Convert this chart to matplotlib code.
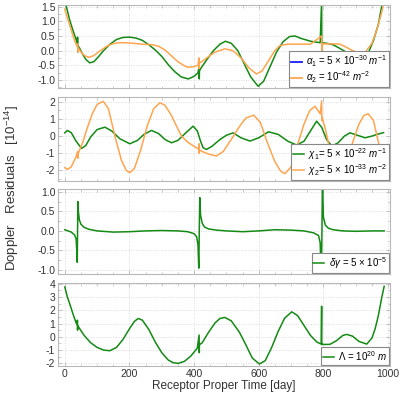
import matplotlib
matplotlib.use("Agg")
import matplotlib.pyplot as plt
from matplotlib.lines import Line2D
from matplotlib.ticker import MultipleLocator

plt.rcParams['font.family'] = ['Liberation Sans', 'DejaVu Sans']
plt.rcParams['mathtext.fontset'] = 'custom'
plt.rcParams['mathtext.rm'] = 'Liberation Sans'
plt.rcParams['mathtext.it'] = 'Liberation Sans:italic'

# ---------------- data ----------------
# Panel 1: alpha1 (green), alpha2 (orange)
a1_t = [0, 5, 15, 25, 35, 39, 39.5, 40.5, 41, 45, 55, 65, 77, 90, 105, 120, 140, 160, 180, 200,
        220, 240, 260, 280, 300, 320, 340, 360, 382, 400, 412, 415.5, 416, 416.5, 420, 440, 460,
        480, 497, 515, 535, 555, 575, 598, 615, 635, 655, 675, 695, 712, 730, 760, 790, 794.5,
        795, 795.5, 810, 830, 850, 870, 890, 910, 925, 940, 955, 970, 980, 990]
a1_v = [1.9, 1.5, 1.05, 0.7, 0.38, 0.25, 0.46, -0.05, 0.15, 0.1, -0.12, -0.3, -0.42, -0.38, -0.2,
        0.0, 0.22, 0.38, 0.45, 0.46, 0.43, 0.35, 0.2, 0.02, -0.2, -0.48, -0.72, -0.9, -0.97,
        -0.88, -0.76, -0.56, -0.97, -0.7, -0.62, -0.3, 0.0, 0.22, 0.32, 0.25, 0.0, -0.45, -0.9,
        -1.22, -1.05, -0.55, -0.05, 0.3, 0.48, 0.5, 0.42, 0.32, 0.27, 1.7, 0.0, 0.27, 0.25, 0.2,
        0.08, -0.05, -0.2, -0.28, -0.27, -0.05, 0.35, 0.9, 1.5, 2.0]
a2_t = [0, 10, 20, 30, 38, 39.5, 40.5, 41, 50, 62, 75, 90, 110, 130, 150, 170, 190, 210, 240,
        270, 290, 310, 330, 350, 370, 381, 400, 412, 415.5, 416, 416.5, 425, 445, 465, 495, 520,
        545, 570, 593, 610, 630, 650, 665, 690, 720, 760, 794.5, 795, 795.5, 830, 851, 870,
        890, 913, 930, 950, 965, 980, 990]
a2_v = [1.42, 1.05, 0.7, 0.35, 0.15, 0.22, -0.05, 0.1, -0.05, -0.18, -0.23, -0.17, 0.0, 0.15,
        0.24, 0.27, 0.27, 0.25, 0.22, 0.2, 0.15, 0.02, -0.18, -0.38, -0.52, -0.57, -0.55, -0.5,
        -0.25, -0.62, -0.42, -0.37, -0.2, -0.05, 0.06, 0.0, -0.25, -0.6, -0.8, -0.7, -0.35, 0.0,
        0.17, 0.22, 0.22, 0.22, 0.5, 0.0, 0.23, 0.23, 0.22, 0.12, 0.0, -0.1, -0.05, 0.25, 0.7,
        1.3, 1.8]

# Panel 2: chi1 (green), chi2 (orange)
c1_t = [0, 8, 20, 35, 52, 65, 80, 100, 124, 145, 170, 201, 225, 245, 268, 290, 310, 330, 350,
        375, 397, 410, 420, 428, 438, 455, 480, 500, 521, 545, 573, 600, 630, 660, 690, 717,
        740, 760, 779, 795, 810, 826, 845, 865, 882, 905, 929, 950, 970, 986]
c1_v = [0.19, 0.33, 0.2, -0.3, -0.72, -0.55, -0.05, 0.38, 0.52, 0.3, -0.15, -0.45, -0.25, 0.1,
        0.33, 0.15, -0.2, -0.39, -0.25, 0.2, 0.58, 0.3, -0.3, -0.68, -0.78, -0.6, -0.2, 0.05,
        0.19, -0.1, -0.29, -0.1, 0.25, 0.1, -0.3, -0.52, -0.3, 0.3, 0.87, 0.5, -0.2, -0.58,
        -0.4, 0.0, 0.19, 0.05, -0.1, 0.0, 0.12, 0.2]
c2_t = [0, 8, 20, 35, 39.5, 40, 40.5, 55, 70, 85, 100, 119, 135, 155, 175, 190, 201, 215, 235,
        255, 275, 294, 310, 330, 345, 361, 380, 400, 414, 415.5, 416, 416.5, 425, 445, 469, 490,
        515, 540, 560, 584, 605, 625, 650, 668, 681, 700, 720, 740, 758, 774, 790, 794.5, 795,
        795.5, 805, 820, 840, 855, 870, 890, 910, 925, 939, 955, 975, 990]
c2_v = [-1.84, -1.94, -1.8, -1.2, -0.9, -1.3, -1.05, -0.4, 0.5, 1.3, 1.85, 2.03, 1.6, 0.0, -1.4,
        -2.0, -2.13, -1.9, -0.8, 0.6, 1.6, 1.94, 1.8, 1.2, 0.6, 0.0, -0.35, -0.6, -0.75, -0.45,
        -1.0, -0.8, -0.9, -1.05, -1.16, -0.9, -0.2, 0.55, 1.05, 1.22, 0.8, -0.3, -1.5, -2.05,
        -2.19, -1.8, -0.5, 0.7, 1.5, 1.74, 1.3, 2.05, 0.9, 1.1, 0.5, -0.8, -1.9, -2.2, -1.7,
        -0.4, 0.7, 1.2, 1.3, 0.9, -0.76, -1.8]

# Panel 3: delta gamma
g_t = [0, 10, 20, 30, 35, 37, 38.5, 39.5, 40.5, 42, 45, 50, 60, 75, 100, 150, 200, 250, 300,
       350, 380, 400, 408, 412, 414.5, 416, 417.5, 420, 425, 432, 445, 470, 500, 550, 600, 650,
       700, 740, 770, 785, 790, 793.5, 795.5, 797, 800, 806, 815, 830, 860, 900, 950, 988]
g_v = [0.03, 0.0, -0.03, -0.1, -0.2, -0.5, -0.8, 0.0, 0.75, 0.5, 0.28, 0.17, 0.09, 0.04, 0.0,
       -0.03, -0.02, 0.0, 0.01, 0.0, -0.02, -0.07, -0.15, -0.35, -0.95, 0.0, 0.85, 0.4, 0.2,
       0.1, 0.05, 0.02, 0.0, -0.02, 0.0, 0.03, 0.02, 0.0, -0.05, -0.12, -0.3, -1.3, 0.0, 1.3,
       0.35, 0.15, 0.07, 0.03, 0.0, -0.01, 0.0, 0.0]

# Panel 4: Lambda
L_t = [0, 8, 15, 25, 35, 38.5, 39, 39.5, 40, 45, 60, 80, 100, 120, 139, 160, 180, 200, 215, 227,
       240, 260, 280, 300, 320, 335, 351, 370, 390, 410, 415.5, 416, 416.5, 425, 445, 465, 480,
       495, 515, 540, 560, 580, 602, 620, 640, 660, 680, 702, 720, 740, 760, 780, 793, 794.5,
       795, 795.5, 800, 820, 840, 860, 872, 890, 910, 934, 950, 960, 970, 980, 988]
L_v = [3.75, 3.0, 2.5, 1.75, 1.05, 0.9, 1.25, 0.5, 0.85, 0.65, 0.1, -0.45, -0.8, -1.0, -1.05,
       -0.8, -0.2, 0.6, 1.15, 1.38, 1.25, 0.55, -0.4, -1.2, -1.75, -1.95, -2.0, -1.85, -1.45,
       -0.85, 0.13, -1.2, -0.6, -0.45, 0.35, 1.05, 1.38, 1.46, 1.2, 0.35, -0.6, -1.6, -2.05,
       -1.8, -0.8, 0.4, 1.4, 1.88, 1.6, 0.85, 0.1, -0.4, -0.55, 2.3, -0.6, -0.55, -0.58, -0.57,
       -0.3, 0.1, 0.18, 0.05, -0.35, -0.55, -0.1, 0.6, 1.6, 2.9, 3.8]

x_ticks = [0, 200, 400, 600, 800, 1000]
labels_p1 = [r"$\alpha_1$ = 5 $\times$ 10$^{-30}$ $m^{-1}$", r"$\alpha_2$ = 10$^{-42}$ $m^{-2}$"]
labels_p2 = [r"$\chi_1$= 5 $\times$ 10$^{-22}$ $m^{-1}$", r"$\chi_2$= 5 $\times$ 10$^{-33}$ $m^{-2}$"]
label_p3 = r"$\delta\gamma$ = 5 $\times$ 10$^{-5}$"
label_p4 = r"$\Lambda$ = 10$^{20}$ $m$"

# ---------------- styling ----------------
GREEN = "#138a13"
ORANGE = "#ffa54f"
BLUE = "#1a1aff"
FRAME = "#b8b8b8"
TXT = "#333333"

fig = plt.figure(figsize=(4.07, 3.94), dpi=100)
W, H = 407, 394
left, right = 58, 390
boxes = [(5, 88), (97, 181), (189, 274), (283, 366)]
axes = []
for (t, b) in boxes:
    ax = fig.add_axes([left / W, 1 - b / H, (right - left) / W, (b - t) / H])
    axes.append(ax)

ylims = [(-1.28, 1.56), (-2.62, 2.28), (-1.1, 1.07), (-2.2, 4.05)]
ymaj = [0.5, 1, 0.5, 1]
for i, ax in enumerate(axes):
    ax.set_xlim(-21, 1006)
    ax.set_ylim(*ylims[i])
    ax.set_xticks(x_ticks)
    ax.xaxis.set_minor_locator(MultipleLocator(50))
    ax.yaxis.set_major_locator(MultipleLocator(ymaj[i]))
    ax.yaxis.set_minor_locator(MultipleLocator(ymaj[i] / 2 if i != 3 else 0.5))
    for s in ax.spines.values():
        s.set_color(FRAME)
        s.set_linewidth(0.8)
    ax.tick_params(which='both', direction='in', colors=FRAME, labelcolor=TXT,
                   labelsize=7.5, top=True, right=True, pad=2)
    ax.tick_params(which='major', length=3, width=0.6)
    ax.tick_params(which='minor', length=1.8, width=0.5)
    ax.grid(True, which='major', color='#d0d0d0', linestyle=(0, (1, 2)), linewidth=0.6)
    ax.set_axisbelow(True)
    if i < 3:
        ax.tick_params(labelbottom=False)
    if i in (0, 2):
        ax.yaxis.set_major_formatter(matplotlib.ticker.FormatStrFormatter('%.1f'))
    else:
        ax.yaxis.set_major_formatter(matplotlib.ticker.FormatStrFormatter('%d'))
axes[3].xaxis.set_major_formatter(matplotlib.ticker.FormatStrFormatter('%d'))

lw = 1.1
leg_kw = dict(loc='lower right', fontsize=7, frameon=True, fancybox=False,
              edgecolor='#888888', framealpha=1, borderaxespad=0.12, handlelength=1.1,
              handletextpad=0.45, borderpad=0.2, labelspacing=0.05)

# Panel 1
ax = axes[0]
ax.plot(a1_t, a1_v, color=GREEN, lw=lw)
ax.plot(a2_t, a2_v, color=ORANGE, lw=lw)
h1 = [Line2D([], [], color=BLUE, lw=1.3), Line2D([], [], color=ORANGE, lw=1.3)]
lg = ax.legend(h1, labels_p1, **leg_kw)
lg.get_frame().set_linewidth(0.8)

# Panel 2
ax = axes[1]
ax.plot(c1_t, c1_v, color=GREEN, lw=lw, label=labels_p2[0])
ax.plot(c2_t, c2_v, color=ORANGE, lw=lw, label=labels_p2[1])
lg = ax.legend(**leg_kw)
lg.get_frame().set_linewidth(0.8)

# Panel 3
ax = axes[2]
ax.plot(g_t, g_v, color=GREEN, lw=lw, label=label_p3)
lg = ax.legend(**leg_kw)
lg.get_frame().set_linewidth(0.8)

# Panel 4
ax = axes[3]
ax.plot(L_t, L_v, color=GREEN, lw=lw, label=label_p4)
lg = ax.legend(**leg_kw)
lg.get_frame().set_linewidth(0.8)

axes[3].set_xlabel("Receptor Proper Time [day]", fontsize=8.5, color=TXT, labelpad=1)
fig.text(12 / W, 1 - 188 / H, r"Doppler   Residuals   [10$^{-14}$]", rotation=90,
         ha='center', va='center', fontsize=9.5, color=TXT)

fig.savefig("out.png", dpi=100)
